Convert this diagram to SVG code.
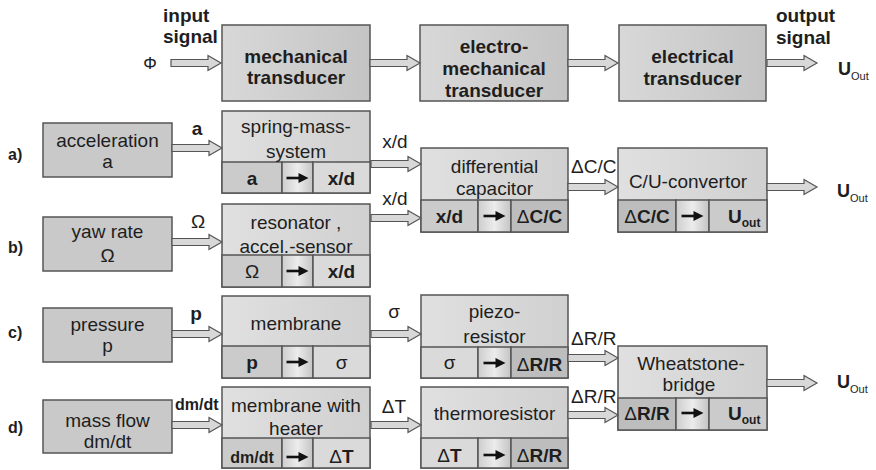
<svg xmlns="http://www.w3.org/2000/svg" xmlns:xlink="http://www.w3.org/1999/xlink" width="876" height="470" viewBox="0 0 876 470">
<style>
text{font-family:"Liberation Sans",Arial,sans-serif;font-size:19px;fill:#1e1e1e;text-anchor:middle}
.b{font-weight:bold}
.s{text-anchor:start}
.lbl{font-size:16px;font-weight:bold;text-anchor:start}
.box{stroke:#555;stroke-width:1.5}
.top{fill:url(#gTop)}
.src{fill:#c9c9c9}
.up{fill:url(#gUp)}
.cl{fill:#cbcbcb}
.cm{fill:url(#gMid)}
.cr{fill:#dadada}
.cd{fill:#bdbdbd}
.arr{fill:#d8d8d8;stroke:#555;stroke-width:1.2}
.n{font-weight:normal}
</style>
<defs>
<linearGradient id="gTop" x1="0" x2="1"><stop offset="0" stop-color="#d8d8d8"/><stop offset="1" stop-color="#c4c4c4"/></linearGradient>
<linearGradient id="gUp" x1="0" x2="1"><stop offset="0" stop-color="#e0e0e0"/><stop offset="1" stop-color="#d0d0d0"/></linearGradient>
<linearGradient id="gMid" x1="0" x2="1"><stop offset="0" stop-color="#cdcdcd"/><stop offset="0.5" stop-color="#ececec"/><stop offset="1" stop-color="#c4c4c4"/></linearGradient>
<path id="ha" d="M0,-3.5 H37 V-7.5 L50,0 L37,7.5 V3.5 H0 Z"/>
<g id="ia"><line x1="0" y1="0" x2="14" y2="0" stroke="#111" stroke-width="2.6"/><path d="M12,-5 L22,0 L12,5 Z" fill="#111"/></g>
</defs>
<rect width="876" height="470" fill="#fff"/>

<!-- top row -->
<g id="inputLabel"><text class="b s" x="163" y="22">input</text><text class="b s" x="163" y="43">signal</text><text x="150" y="69" style="font-size:17px;fill:#222">Φ</text></g>
<g id="mech"><rect class="box top" x="222" y="25" width="148" height="76"/><text class="b" x="296" y="63">mechanical</text><text class="b" x="296" y="84">transducer</text></g>
<g id="electromech"><rect class="box top" x="420" y="25" width="148" height="76"/><text class="b" x="494" y="53">electro-</text><text class="b" x="494" y="75">mechanical</text><text class="b" x="494" y="97">transducer</text></g>
<g id="electrical"><rect class="box top" x="619" y="25" width="147" height="76"/><text class="b" x="692.5" y="63">electrical</text><text class="b" x="692.5" y="85">transducer</text></g>
<g id="outputLabel"><text class="b s" x="776" y="22">output</text><text class="b s" x="776" y="44">signal</text><text class="s" x="838" y="75"><tspan class="b" style="font-size:18px">U</tspan><tspan dy="5" style="font-size:11px">Out</tspan></text></g>

<!-- row labels -->
<text class="lbl" x="8" y="160">a)</text>
<text class="lbl" x="8" y="253">b)</text>
<text class="lbl" x="8" y="338">c)</text>
<text class="lbl" x="8" y="433">d)</text>

<!-- sources -->
<g id="accel"><rect class="box src" x="43" y="123" width="129" height="54"/><text x="107.5" y="147">acceleration</text><text x="107.5" y="168">a</text></g>
<g id="yaw"><rect class="box src" x="43" y="217" width="129" height="54"/><text x="107.5" y="238">yaw rate</text><text x="107.5" y="262">Ω</text></g>
<g id="pressure"><rect class="box src" x="43" y="308" width="129" height="54"/><text x="107.5" y="331">pressure</text><text x="107.5" y="352">p</text></g>
<g id="massflow"><rect class="box src" x="43" y="400" width="129" height="53"/><text x="107.5" y="427">mass flow</text><text x="107.5" y="448">dm/dt</text></g>

<!-- column 2 -->
<g id="springmass"><rect class="box up" x="222" y="111" width="148" height="82"/>
<rect class="box cl" x="222" y="162" width="60" height="31"/><rect class="box cm" x="282" y="162" width="31" height="31"/><rect class="box cr" x="313" y="162" width="57" height="31"/>
<text x="296" y="133">spring-mass-</text><text x="296" y="158">system</text>
<text class="b" x="252" y="185">a</text><use xlink:href="#ia" x="286.5" y="178"/><text class="b" x="341.5" y="185">x/d</text></g>
<g id="resonator"><rect class="box up" x="222" y="204" width="148" height="83"/>
<rect class="box cl" x="222" y="255" width="60" height="32"/><rect class="box cm" x="282" y="255" width="31" height="32"/><rect class="box cr" x="313" y="255" width="57" height="32"/>
<text x="296" y="229">resonator ,</text><text x="296" y="253">accel.-sensor</text>
<text x="252" y="278">Ω</text><use xlink:href="#ia" x="286.5" y="271"/><text class="b" x="341.5" y="278">x/d</text></g>
<g id="membrane"><rect class="box up" x="222" y="296" width="148" height="82"/>
<rect class="box cl" x="222" y="346" width="60" height="32"/><rect class="box cm" x="282" y="346" width="31" height="32"/><rect class="box cr" x="313" y="346" width="57" height="32"/>
<text x="296" y="330">membrane</text>
<text class="b" x="252" y="369">p</text><use xlink:href="#ia" x="286.5" y="362"/><text x="341.5" y="369">σ</text></g>
<g id="heater"><rect class="box up" x="222" y="387" width="148" height="81"/>
<rect class="box cl" x="222" y="438" width="60" height="30"/><rect class="box cm" x="282" y="438" width="31" height="30"/><rect class="box cr" x="313" y="438" width="57" height="30"/>
<text x="296" y="412">membrane with</text><text x="296" y="435">heater</text>
<text class="b" x="252" y="463" style="font-size:16px">dm/dt</text><use xlink:href="#ia" x="286.5" y="457"/><text class="b" x="341.5" y="463"><tspan class="n">Δ</tspan>T</text></g>

<!-- column 3 -->
<g id="diffcap"><rect class="box up" x="421" y="148" width="147" height="84"/>
<rect class="box cl" x="421" y="200" width="57" height="32"/><rect class="box cm" x="478" y="200" width="33" height="32"/><rect class="box cd" x="511" y="200" width="57" height="32"/>
<text x="494.5" y="173">differential</text><text x="494.5" y="195">capacitor</text>
<text class="b" x="449.5" y="223">x/d</text><use xlink:href="#ia" x="483.5" y="216"/><text class="b" x="539.5" y="223"><tspan class="n">Δ</tspan>C/C</text></g>
<g id="piezo"><rect class="box up" x="421" y="295" width="147" height="83"/>
<rect class="box cr" x="421" y="347" width="57" height="31"/><rect class="box cm" x="478" y="347" width="33" height="31"/><rect class="box cd" x="511" y="347" width="57" height="31"/>
<text x="494.5" y="318">piezo-</text><text x="494.5" y="343">resistor</text>
<text x="449.5" y="369">σ</text><use xlink:href="#ia" x="483.5" y="363"/><text class="b" x="539.5" y="371"><tspan class="n">Δ</tspan>R/R</text></g>
<g id="thermo"><rect class="box up" x="421" y="387" width="147" height="81"/>
<rect class="box cr" x="421" y="438" width="57" height="30"/><rect class="box cm" x="478" y="438" width="33" height="30"/><rect class="box cd" x="511" y="438" width="57" height="30"/>
<text x="494.5" y="420">thermoresistor</text>
<text class="b" x="449.5" y="462"><tspan class="n">Δ</tspan>T</text><use xlink:href="#ia" x="483.5" y="455"/><text class="b" x="539.5" y="462"><tspan class="n">Δ</tspan>R/R</text></g>

<!-- column 4 -->
<g id="cuconv"><rect class="box up" x="618" y="148" width="149" height="84"/>
<rect class="box cd" x="618" y="200" width="58" height="32"/><rect class="box cm" x="676" y="200" width="33" height="32"/><rect class="box cl" x="709" y="200" width="58" height="32"/>
<text x="688" y="188">C/U-convertor</text>
<text class="b" x="647" y="223"><tspan class="n">Δ</tspan>C/C</text><use xlink:href="#ia" x="681.5" y="216"/><text class="b s" x="728" y="223">U<tspan dy="4" style="font-size:12px">out</tspan></text></g>
<g id="wheatstone"><rect class="box up" x="618" y="346" width="149" height="84"/>
<rect class="box cd" x="618" y="398" width="58" height="32"/><rect class="box cm" x="676" y="398" width="33" height="32"/><rect class="box cl" x="709" y="398" width="58" height="32"/>
<text x="691" y="370">Wheatstone-</text><text x="689" y="391">bridge</text>
<text class="b" x="647" y="420"><tspan class="n">Δ</tspan>R/R</text><use xlink:href="#ia" x="681.5" y="413"/><text class="b s" x="728" y="420">U<tspan dy="4" style="font-size:12px">out</tspan></text></g>

<g id="outA"><text class="s" x="837" y="197"><tspan class="b" style="font-size:18px">U</tspan><tspan dy="5" style="font-size:11px">Out</tspan></text></g>
<g id="outC"><text class="s" x="837" y="388"><tspan class="b" style="font-size:18px">U</tspan><tspan dy="5" style="font-size:11px">Out</tspan></text></g>

<!-- connectors -->
<g id="connectors">
<use xlink:href="#ha" class="arr" x="171" y="63"/>
<use xlink:href="#ha" class="arr" x="370" y="63"/>
<use xlink:href="#ha" class="arr" x="568" y="63"/>
<use xlink:href="#ha" class="arr" x="767" y="63"/>
<use xlink:href="#ha" class="arr" x="172" y="148"/>
<use xlink:href="#ha" class="arr" x="371" y="164"/>
<use xlink:href="#ha" class="arr" x="172" y="242"/>
<use xlink:href="#ha" class="arr" x="371" y="218"/>
<use xlink:href="#ha" class="arr" x="568" y="187"/>
<use xlink:href="#ha" class="arr" x="767" y="187"/>
<use xlink:href="#ha" class="arr" x="172" y="334"/>
<use xlink:href="#ha" class="arr" x="371" y="334"/>
<use xlink:href="#ha" class="arr" x="568" y="358"/>
<use xlink:href="#ha" class="arr" x="568" y="415"/>
<use xlink:href="#ha" class="arr" x="767" y="383"/>
<use xlink:href="#ha" class="arr" x="172" y="425"/>
<use xlink:href="#ha" class="arr" x="371" y="425"/>
<text class="b" x="197" y="135">a</text>
<text x="395" y="148">x/d</text>
<text x="395" y="205">x/d</text>
<text x="198" y="228">Ω</text>
<text class="s" x="571" y="173">ΔC/C</text>
<text class="b" x="196" y="320">p</text>
<text x="394" y="318">σ</text>
<text class="s" x="571" y="345">ΔR/R</text>
<text class="s" x="571" y="403">ΔR/R</text>
<text class="b s" x="175" y="410" style="font-size:16px">dm/dt</text>
<text x="394" y="413">ΔT</text>
</g>
</svg>
